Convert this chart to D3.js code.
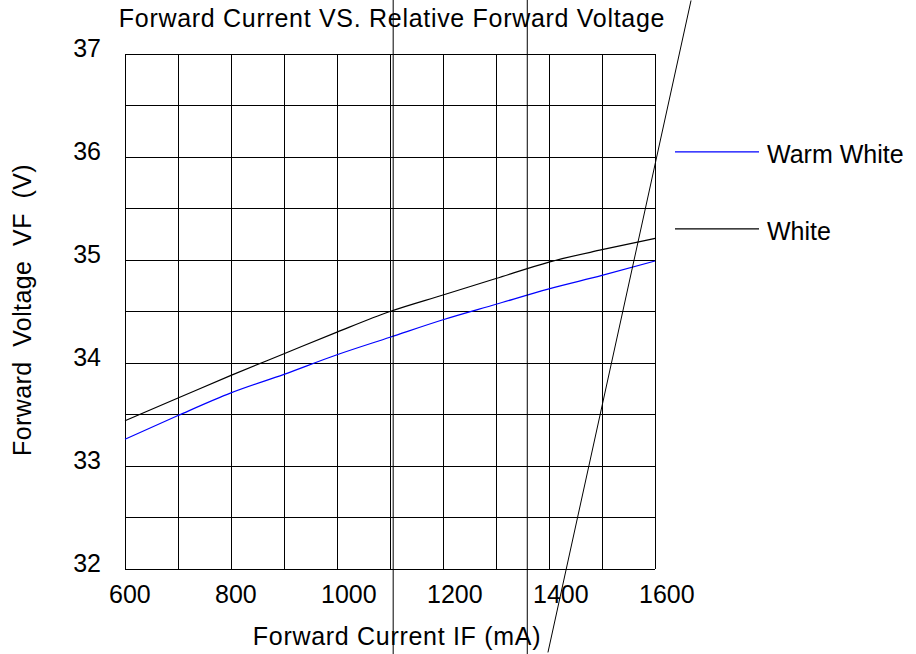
<!DOCTYPE html>
<html>
<head>
<meta charset="utf-8">
<script src="https://cdn.jsdelivr.net/npm/d3@7"></script>
<style>
  body { margin: 0; background: #fff; }
  text { font-family: "Liberation Sans", Arial, sans-serif; fill: #000; }
</style>
</head>
<body>
<script>
// forward current (mA) sampled every 100 mA
const current = [600, 700, 800, 900, 1000, 1100, 1200, 1300, 1400, 1500, 1600];
// forward voltage (V)
const warmWhite = [33.26, 33.49, 33.71, 33.89, 34.08, 34.25, 34.42, 34.57, 34.72, 34.85, 34.99];
const white = [33.44, 33.66, 33.88, 34.09, 34.30, 34.50, 34.66, 34.82, 34.98, 35.10, 35.21];

const xTickLabels = [600, 800, 1000, 1200, 1400, 1600];
const yTickLabels = [32, 33, 34, 35, 36, 37];
const seriesNames = ["Warm White", "White"];

// stray construction lines left in the original drawing (data units)
const strayVerticals = [1106, 1359];
const strayDiagonal = [[1668, 37.52], [1398, 31.19]];

let width = 916,
    height = 654;

let svg = d3.select('body')
    .append('svg')
    .attr('width', width)
    .attr('height', height);

let xscale = d3.scaleLinear()
    .domain([600, 1600])
    .range([125, 655]);

let yscale = d3.scaleLinear()
    .domain([32, 37])
    .range([569, 54]);

// grid
const grid = svg.append('g')
    .attr('stroke', '#000')
    .attr('stroke-width', 1)
    .attr('shape-rendering', 'crispEdges');

grid.selectAll('.vx')
    .data(xscale.ticks(10))
    .enter().append('line')
    .attr('x1', d => xscale(d))
    .attr('x2', d => xscale(d))
    .attr('y1', yscale(37))
    .attr('y2', yscale(32));

grid.selectAll('.hy')
    .data(yscale.ticks(10))
    .enter().append('line')
    .attr('x1', xscale(600))
    .attr('x2', xscale(1600))
    .attr('y1', d => yscale(d))
    .attr('y2', d => yscale(d));

// tick labels
svg.selectAll('.xl')
    .data(xTickLabels)
    .enter().append('text')
    .attr('x', d => xscale(d) - 16)
    .attr('y', 603)
    .style('font-size', '25px')
    .text(d => d);

svg.selectAll('.yl')
    .data(yTickLabels)
    .enter().append('text')
    .attr('x', 101)
    .attr('y', d => yscale(d) + 3)
    .attr('text-anchor', 'end')
    .style('font-size', '25px')
    .text(d => d);

// curves
let line = d3.line()
    .x((d, i) => xscale(current[i]))
    .y(d => yscale(d))
    .curve(d3.curveMonotoneX);

svg.append('path')
    .datum(warmWhite)
    .attr('d', line)
    .attr('fill', 'none')
    .attr('stroke', '#0000ff')
    .attr('stroke-width', 1.2);

svg.append('path')
    .datum(white)
    .attr('d', line)
    .attr('fill', 'none')
    .attr('stroke', '#000')
    .attr('stroke-width', 1.2);

// stray lines
svg.selectAll('.sv')
    .data(strayVerticals)
    .enter().append('line')
    .attr('x1', d => xscale(d))
    .attr('x2', d => xscale(d))
    .attr('y1', 0)
    .attr('y2', height)
    .attr('stroke', '#000')
    .attr('stroke-width', 1);

svg.append('line')
    .attr('x1', xscale(strayDiagonal[0][0]))
    .attr('y1', yscale(strayDiagonal[0][1]))
    .attr('x2', xscale(strayDiagonal[1][0]))
    .attr('y2', yscale(strayDiagonal[1][1]))
    .attr('stroke', '#000')
    .attr('stroke-width', 1);

// legend
const legendColors = ['#0000ff', '#000000'];
seriesNames.forEach((name, i) => {
    let ly = 151.5 + i * 77;
    svg.append('line')
        .attr('x1', 675)
        .attr('x2', 759)
        .attr('y1', ly + 0.3)
        .attr('y2', ly + 0.3)
        .style('stroke', legendColors[i])
        .style('stroke-width', 1.2);
    svg.append('text')
        .attr('x', 767)
        .attr('y', ly + 11)
        .style('font-size', '25px')
        .text(name);
});

// titles
svg.append('text')
    .attr('x', 392)
    .attr('y', 27)
    .attr('text-anchor', 'middle')
    .style('font-size', '25px')
    .style('letter-spacing', '0.7px')
    .text('Forward Current VS. Relative Forward Voltage');

svg.append('text')
    .attr('x', 397)
    .attr('y', 645)
    .attr('text-anchor', 'middle')
    .style('font-size', '25px')
    .style('letter-spacing', '0.7px')
    .text('Forward Current IF (mA)');

svg.append('text')
    .attr('transform', 'translate(31,310) rotate(-90)')
    .attr('text-anchor', 'middle')
    .style('font-size', '25px')
    .style('letter-spacing', '0.4px')
    .style('white-space', 'pre')
    .text('Forward  Voltage  VF  (V)');
</script>
</body>
</html>
